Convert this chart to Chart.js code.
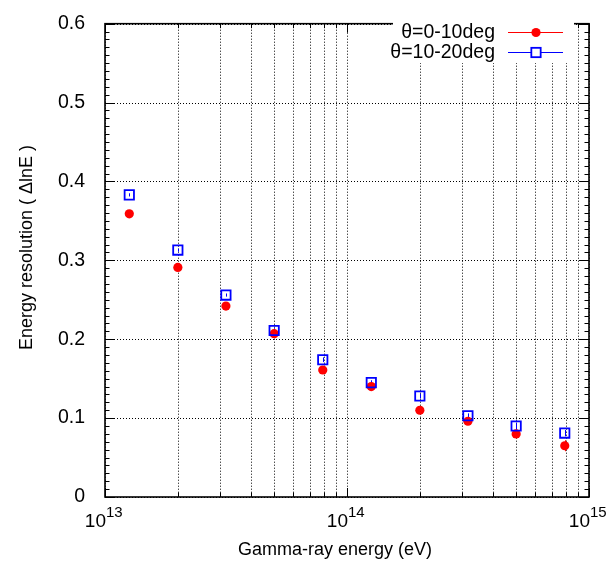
<!DOCTYPE html>
<html><head><meta charset="utf-8">
<script src="https://cdn.jsdelivr.net/npm/chart.js@4"></script>
<style>html,body{margin:0;padding:0;background:#fff;}#wrap{width:611px;height:564px;}</style>
</head><body><div id="wrap"><canvas id="c" width="611" height="564"></canvas></div>
<script>
// ---- data ----
const energies = [1.26e13, 2.0e13, 3.16e13, 5.0e13, 7.94e13, 1.26e14, 2.0e14, 3.16e14, 5.0e14, 7.94e14];
const res0to10 = [0.359, 0.291, 0.242, 0.207, 0.161, 0.140, 0.110, 0.096, 0.080, 0.065];
const err0to10 = [0.004, 0.004, 0.004, 0.004, 0.004, 0.004, 0.004, 0.004, 0.004, 0.007];
const res10to20 = [0.383, 0.313, 0.256, 0.211, 0.174, 0.145, 0.128, 0.103, 0.090, 0.081];
const err10to20 = [0.002, 0.002, 0.002, 0.003, 0.003, 0.003, 0.003, 0.003, 0.004, 0.004];
const seriesLabels = ['θ=0-10deg', 'θ=10-20deg'];
const xMajorTicks = [1e13, 1e14, 1e15];
const xTickBase = ['10', '10', '10'];
const xTickExp = ['13', '14', '15'];
const xMinorMantissas = [2, 3, 4, 5, 6, 7, 8, 9];
const yTicks = [0, 0.1, 0.2, 0.3, 0.4, 0.5, 0.6];
const yTickLabels = ['0', '0.1', '0.2', '0.3', '0.4', '0.5', '0.6'];
const xTitle = 'Gamma-ray energy (eV)';
const yTitle = 'Energy resolution ( ΔlnE )';

const FONT = "'Liberation Sans', Arial, Helvetica, sans-serif";
const xGridValues = [];
xMajorTicks.forEach((v, i) => {
  xGridValues.push(v);
  if (i < xMajorTicks.length - 1) xMinorMantissas.forEach(m => xGridValues.push(v * m));
});
const toPts = (xs, ys) => xs.map((x, i) => ({ x: x, y: ys[i] }));

const gnuplotPlugin = {
  id: 'gnuplotLook',
  beforeDatasetsDraw(chart) {
    const { ctx, chartArea: a, scales: { x, y } } = chart;
    // dotted grid through the library's scales
    ctx.save();
    ctx.strokeStyle = '#000';
    ctx.lineWidth = 1;
    ctx.setLineDash([1, 2]);
    x.ticks.forEach(t => {
      const px = Math.round(x.getPixelForValue(t.value)) + 0.5;
      ctx.beginPath(); ctx.moveTo(px, a.top); ctx.lineTo(px, a.bottom); ctx.stroke();
    });
    y.ticks.forEach(t => {
      const py = Math.round(y.getPixelForValue(t.value)) + 0.5;
      ctx.beginPath(); ctx.moveTo(a.left, py); ctx.lineTo(a.right, py); ctx.stroke();
    });
    ctx.restore();
    // error bars
    chart.data.datasets.forEach(ds => {
      ctx.save();
      ctx.strokeStyle = ds.borderColor;
      ctx.lineWidth = 1;
      ds.data.forEach((p, i) => {
        const px = Math.round(x.getPixelForValue(p.x)) + 0.5;
        const y1 = y.getPixelForValue(p.y - ds.errs[i]);
        const y2 = y.getPixelForValue(p.y + ds.errs[i]);
        ctx.beginPath(); ctx.moveTo(px, y1); ctx.lineTo(px, y2); ctx.stroke();
      });
      ctx.restore();
    });
  },
  afterDraw(chart) {
    const { ctx, chartArea: a, scales: { x, y } } = chart;
    ctx.save();
    ctx.strokeStyle = '#000';
    ctx.lineWidth = 1;
    // x ticks (inward, bottom and top)
    xGridValues.forEach(v => {
      const px = Math.round(x.getPixelForValue(v)) + 0.5;
      const len = xMajorTicks.includes(v) ? 9 : 4.5;
      ctx.beginPath();
      ctx.moveTo(px, a.bottom); ctx.lineTo(px, a.bottom - len);
      ctx.moveTo(px, a.top); ctx.lineTo(px, a.top + len);
      ctx.stroke();
    });
    // y ticks every 0.01 (inward, left and right)
    for (let k = 0; k <= 60; k++) {
      const py = Math.round(y.getPixelForValue(k / 100)) + 0.5;
      const len = k % 10 === 0 ? 9 : 4.5;
      ctx.beginPath();
      ctx.moveTo(a.left, py); ctx.lineTo(a.left + len, py);
      ctx.moveTo(a.right, py); ctx.lineTo(a.right - len, py);
      ctx.stroke();
    }
    // frame
    ctx.lineWidth = 1.6;
    ctx.strokeRect(a.left, a.top, a.right - a.left, a.bottom - a.top);

    // x tick labels 10^n
    ctx.fillStyle = '#000';
    ctx.textBaseline = 'alphabetic';
    xMajorTicks.forEach((v, i) => {
      const px = x.getPixelForValue(v);
      ctx.font = '19px ' + FONT;
      ctx.textAlign = 'right';
      ctx.fillText(xTickBase[i], px + 1, 527);
      ctx.font = '15px ' + FONT;
      ctx.textAlign = 'left';
      ctx.fillText(xTickExp[i], px + 1, 517);
    });

    // axis titles
    ctx.font = '18px ' + FONT;
    ctx.textAlign = 'center';
    ctx.textBaseline = 'alphabetic';
    ctx.fillText(xTitle, 335, 555);
    ctx.save();
    ctx.translate(32, 247.5);
    ctx.rotate(-Math.PI / 2);
    ctx.fillText(yTitle, 0, 0);
    ctx.restore();

    // legend (opaque box inside the plot, text right of sample)
    ctx.fillStyle = '#fff';
    ctx.fillRect(393, 20, 181, 43);
    const rowsY = [32, 52];
    chart.data.datasets.forEach((ds, i) => {
      const yy = rowsY[i] + 0.5;
      ctx.fillStyle = '#000';
      ctx.font = '19.5px ' + FONT;
      ctx.textAlign = 'right';
      ctx.textBaseline = 'middle';
      ctx.fillText(ds.label, 495, yy);
      ctx.strokeStyle = ds.borderColor;
      ctx.lineWidth = 1.2;
      ctx.beginPath(); ctx.moveTo(508, yy); ctx.lineTo(563, yy); ctx.stroke();
      if (ds.pointStyle === 'circle') {
        ctx.fillStyle = ds.backgroundColor;
        ctx.beginPath(); ctx.arc(536, yy, ds.pointRadius, 0, Math.PI * 2); ctx.fill();
      } else {
        const s = ds.pointRadius * Math.SQRT1_2;
        ctx.fillStyle = '#fff';
        ctx.fillRect(536 - s, yy - s, 2 * s, 2 * s);
        ctx.lineWidth = ds.pointBorderWidth;
        ctx.strokeRect(536 - s, yy - s, 2 * s, 2 * s);
      }
    });
    ctx.restore();
  }
};

new Chart(document.getElementById('c').getContext('2d'), {
  type: 'scatter',
  data: {
    datasets: [
      { label: seriesLabels[0], data: toPts(energies, res0to10), errs: err0to10,
        pointStyle: 'circle', pointRadius: 4.6, pointHoverRadius: 4.6,
        backgroundColor: '#ff0000', borderColor: '#ff0000', pointBorderWidth: 0, order: 1 },
      { label: seriesLabels[1], data: toPts(energies, res10to20), errs: err10to20,
        pointStyle: 'rect', pointRadius: 6.6, pointHoverRadius: 6.6,
        backgroundColor: 'rgba(0,0,0,0)', borderColor: '#0000ff', pointBorderWidth: 1.8, order: 0 }
    ]
  },
  options: {
    responsive: false,
    animation: false,
    devicePixelRatio: 1,
    layout: { padding: { left: 0, top: 14, right: 22, bottom: 0 } },
    plugins: { legend: { display: false }, tooltip: { enabled: false } },
    scales: {
      x: {
        type: 'logarithmic', min: 1e13, max: 1e15,
        afterBuildTicks: s => { s.ticks = xGridValues.map(v => ({ value: v })); },
        afterFit: s => { s.height = 67; },
        ticks: { display: false },
        grid: { display: false },
        border: { display: false }
      },
      y: {
        min: 0, max: 0.6,
        afterBuildTicks: s => { s.ticks = yTicks.map(v => ({ value: v })); },
        afterFit: s => { s.width = 105; },
        ticks: { callback: (v, i) => yTickLabels[i], font: { family: FONT, size: 19.5 }, color: '#000', padding: 12 },
        grid: { display: false },
        border: { display: false }
      }
    }
  },
  plugins: [gnuplotPlugin]
});
</script>
</body></html>
